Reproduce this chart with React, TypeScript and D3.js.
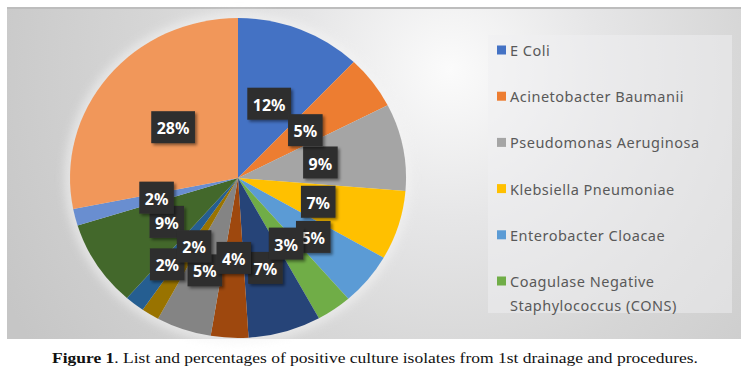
import React from "react";
import * as d3 from "d3";

const categories = [
  "E Coli",
  "Acinetobacter Baumanii",
  "Pseudomonas Aeruginosa",
  "Klebsiella Pneumoniae",
  "Enterobacter Cloacae",
  "Coagulase Negative Staphylococcus (CONS)",
  "Isolate 7",
  "Isolate 8",
  "Isolate 9",
  "Isolate 10",
  "Isolate 11",
  "Isolate 12",
  "Isolate 13",
  "Isolate 14",
];
const percentages = [12.1, 5.4, 8.8, 7.0, 5.3, 3.4, 7.0, 3.6, 5.3, 1.7, 1.9, 8.7, 1.7, 28.1];
const colors = [
  "#4472C4", "#ED7D31", "#A5A5A5", "#FFC000", "#5B9BD5", "#70AD47",
  "#264478", "#9E480E", "#848484", "#997300", "#255E91", "#43682B",
  "#698ED0", "#F1975A",
];
const legendCount = 6;
const captionBold = "Figure 1";
const captionRest = ". List and percentages of positive culture isolates from 1st drainage and procedures.";

const W = 748;
const H = 379;
const area = { x: 7, y: 8, w: 734, h: 331 };
const cx = 238;
const cy = 178;
const rx = 168;
const ry = 160;

let measureCtx: CanvasRenderingContext2D | null = null;
function measure(text: string, font: string): number {
  if (!measureCtx) measureCtx = document.createElement("canvas").getContext("2d");
  if (!measureCtx) return text.length * 7;
  measureCtx.font = font;
  return measureCtx.measureText(text).width;
}

function wrap(text: string, font: string, maxW: number, spacing: number): string[] {
  const words = text.split(" ");
  const lines: string[] = [];
  let cur = "";
  for (const w of words) {
    const t = cur ? cur + " " + w : w;
    if (measure(t, font) + t.length * spacing > maxW && cur) {
      lines.push(cur);
      cur = w;
    } else cur = t;
  }
  if (cur) lines.push(cur);
  return lines;
}

export default function App() {
  const pie = d3.pie<number>().sort(null).value((d) => d);
  const arcs = pie(percentages);
  const arc = d3.arc<d3.PieArcDatum<number>>().innerRadius(0).outerRadius(rx);

  const labelFont = "bold 16px 'Noto Sans'";
  const boxH = 32;
  type Box = { x: number; y: number; w: number; h: number; text: string };
  const placed: (Box | null)[] = arcs.map(() => null);
  const tol = 8;
  // place small slices first, pushing labels outward until they no longer collide
  const order = arcs.map((_, i) => i).sort((a, b) => arcs[a].data - arcs[b].data);
  order.forEach((i) => {
    const a = arcs[i];
    const text = Math.round(a.data) + "%";
    const w = measure(text, labelFont) + 11;
    const mid = (a.startAngle + a.endAngle) / 2;
    let r = 0.5;
    let x = 0, y = 0;
    for (let step = 0; step < 60; step++) {
      x = cx + r * rx * Math.sin(mid);
      y = cy - r * ry * Math.cos(mid);
      const bad = placed.some((b) => {
        if (!b) return false;
        const ox = Math.min(x + w / 2, b.x + b.w / 2) - Math.max(x - w / 2, b.x - b.w / 2);
        const oy = Math.min(y + boxH / 2, b.y + b.h / 2) - Math.max(y - boxH / 2, b.y - b.h / 2);
        return ox > tol && oy > tol;
      });
      if (!bad) break;
      r += 0.005;
    }
    placed[i] = { x, y, w, h: boxH, text };
  });
  // draw larger values first so small labels stay on top
  const drawOrder = order.slice().reverse();

  const legendFont = "14.5px 'Noto Sans'";
  const legendSpacing = 0.5;
  const legendX = 497;
  const legendY0 = 50;
  const legendStep = 46.2;
  const lineH = 24;

  return (
    <svg width={W} height={H} style={{ position: "absolute", left: 0, top: 0 }}>
      <defs>
        <radialGradient id="bg" gradientUnits="userSpaceOnUse" cx={450} cy={70} r={500}>
          <stop offset="0" stopColor="#fbfbfb" />
          <stop offset="0.3" stopColor="#e6e6e7" />
          <stop offset="0.6" stopColor="#d6d6d6" />
          <stop offset="1" stopColor="#c6c6c6" />
        </radialGradient>
        <filter id="glow" x="-20%" y="-20%" width="140%" height="140%">
          <feGaussianBlur stdDeviation="4" />
        </filter>
        <filter id="shadow" x="-30%" y="-30%" width="160%" height="160%">
          <feDropShadow dx="2" dy="2" stdDeviation="1.5" floodColor="#000" floodOpacity="0.45" />
        </filter>
      </defs>
      <rect x={0} y={0} width={W} height={H} fill="#ffffff" />
      <rect x={area.x} y={area.y} width={area.w} height={area.h} fill="url(#bg)" />
      <line x1={area.x} x2={area.x + area.w} y1={area.y} y2={area.y} stroke="#bdbdbd" strokeWidth={2} />

      <ellipse cx={cx} cy={cy} rx={rx + 6} ry={ry + 6} fill="#f4f4f4" opacity={0.55} filter="url(#glow)" />
      <g transform={`translate(${cx},${cy}) scale(1,${ry / rx})`}>
        {arcs.map((a, i) => (
          <path key={i} d={arc(a) || ""} fill={colors[i]} />
        ))}
      </g>

      {drawOrder.map((i) => {
        const b = placed[i];
        if (!b) return null;
        return (
          <g key={i}>
            <rect x={b.x - b.w / 2} y={b.y - b.h / 2} width={b.w} height={b.h} fill="#2f2f2f" filter="url(#shadow)" />
            <text x={b.x} y={b.y + 1} textAnchor="middle" dominantBaseline="central" fill="#ffffff"
              style={{ font: labelFont }}>{b.text}</text>
          </g>
        );
      })}

      <rect x={488} y={35} width={244} height={278} fill="#f0f0f2" opacity={0.5} />
      {categories.slice(0, legendCount).map((c, i) => {
        const y = legendY0 + i * legendStep;
        const lines = wrap(c, legendFont, 220, legendSpacing);
        return (
          <g key={c}>
            <rect x={legendX} y={y - 4.5} width={9} height={9} fill={colors[i]} />
            {lines.map((ln, j) => (
              <text key={j} x={legendX + 13} y={y + j * lineH} dominantBaseline="central"
                fill="#595959" style={{ font: legendFont, letterSpacing: legendSpacing }}>{ln}</text>
            ))}
          </g>
        );
      })}

      <text x={52} y={363} textLength={646} lengthAdjust="spacingAndGlyphs"
        style={{ fontFamily: "'Liberation Serif', serif", fontSize: 15 }} fill="#111">
        <tspan fontWeight="bold">{captionBold}</tspan>
        <tspan>{captionRest}</tspan>
      </text>
    </svg>
  );
}
